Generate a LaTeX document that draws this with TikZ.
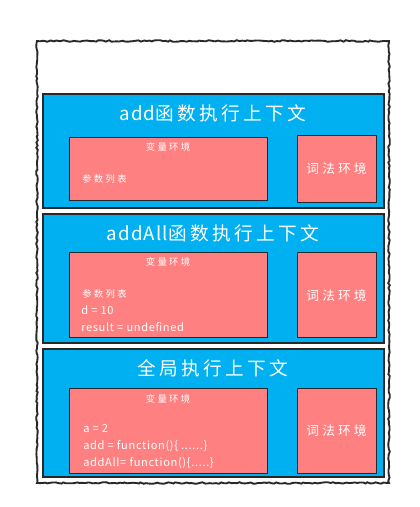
\documentclass[tikz,border=0pt]{standalone}
\usepackage{fontspec}
\setmainfont{Noto Sans CJK SC}
\newfontfamily\wideA[LetterSpace=18]{Noto Sans CJK SC}
\newfontfamily\wideB[LetterSpace=25]{Noto Sans CJK SC}
\newfontfamily\wideC[LetterSpace=6]{Noto Sans CJK SC}
\usetikzlibrary{decorations.pathmorphing}
\definecolor{ctxblue}{RGB}{0,176,240}
\definecolor{envred}{RGB}{255,128,128}
\definecolor{edge}{RGB}{40,40,40}
\newcommand{\latn}[1]{{\wideC #1}}
\tikzset{
  x=0.75pt, y=-0.75pt,
  outerbox/.style={draw=edge, line width=1.4pt, decorate, decoration={random steps,segment length=2pt,amplitude=0.6pt}},
  ctxbox/.style={draw=edge, fill=ctxblue, line width=0.8pt},
  envbox/.style={draw=edge, fill=envred, line width=0.6pt},
  title/.style={text=white, font=\wideA\fontsize{14pt}{15pt}\selectfont, inner sep=0pt},
  envtitle/.style={text=white, font=\wideB\fontsize{7pt}{8pt}\selectfont, inner sep=0pt},
  lexlabel/.style={text=white, font=\wideB\fontsize{9.5pt}{10pt}\selectfont, inner sep=0pt},
  itemtext/.style={text=white, font=\wideC\fontsize{8.3pt}{9pt}\selectfont, inner sep=0pt, anchor=west},
  itemcjk/.style={text=white, font=\wideB\fontsize{7pt}{8pt}\selectfont, inner sep=0pt, anchor=west},
}
\begin{document}
\begin{tikzpicture}
\useasboundingbox (0,0) rectangle (419,507);
\fill[white] (0,0) rectangle (419,507);
% outer stack
\draw[outerbox] (37,41) rectangle (389,483);
% contexts
\draw[ctxbox] (43,94) rectangle (384,208);
\draw[ctxbox] (43,214) rectangle (384,343);
\draw[ctxbox] (43,349) rectangle (384,477);
% titles
\node[title] (t1) at (213,113) {\latn{add}函数执行上下文};
\node[title] (t2) at (213,233) {\latn{addAll}函数执行上下文};
\node[title] (t3) at (213,368) {全局执行上下文};
% context 1
\draw[envbox] (69,137) rectangle (267,200);
\draw[envbox] (297,135) rectangle (376,202);
\node[envtitle] (v1) at (168,147) {变量环境};
\node[itemcjk] (p1) at (82,179) {参数列表};
\node[lexlabel] (l1) at (336.5,168.5) {词法环境};
% context 2
\draw[envbox] (69,252) rectangle (267,337);
\draw[envbox] (297,252) rectangle (376,337);
\node[envtitle] (v2) at (168,262) {变量环境};
\node[itemcjk] (p2) at (82,294) {参数列表};
\node[itemtext] (d2) at (81,310) {d = 10};
\node[itemtext] (r2) at (81,327) {result = undefined};
\node[lexlabel] (l2) at (336.5,296) {词法环境};
% context 3
\draw[envbox] (69,388) rectangle (267,473);
\draw[envbox] (297,388) rectangle (376,473);
\node[envtitle] (v3) at (168,399) {变量环境};
\node[itemtext] (a3) at (83,429) {a = 2};
\node[itemtext] (f3) at (83,446) {add = function()\{ ......\}};
\node[itemtext] (g3) at (83,463) {addAll= function()\{.....\}};
\node[lexlabel] (l3) at (336.5,431) {词法环境};
\end{tikzpicture}
\end{document}
